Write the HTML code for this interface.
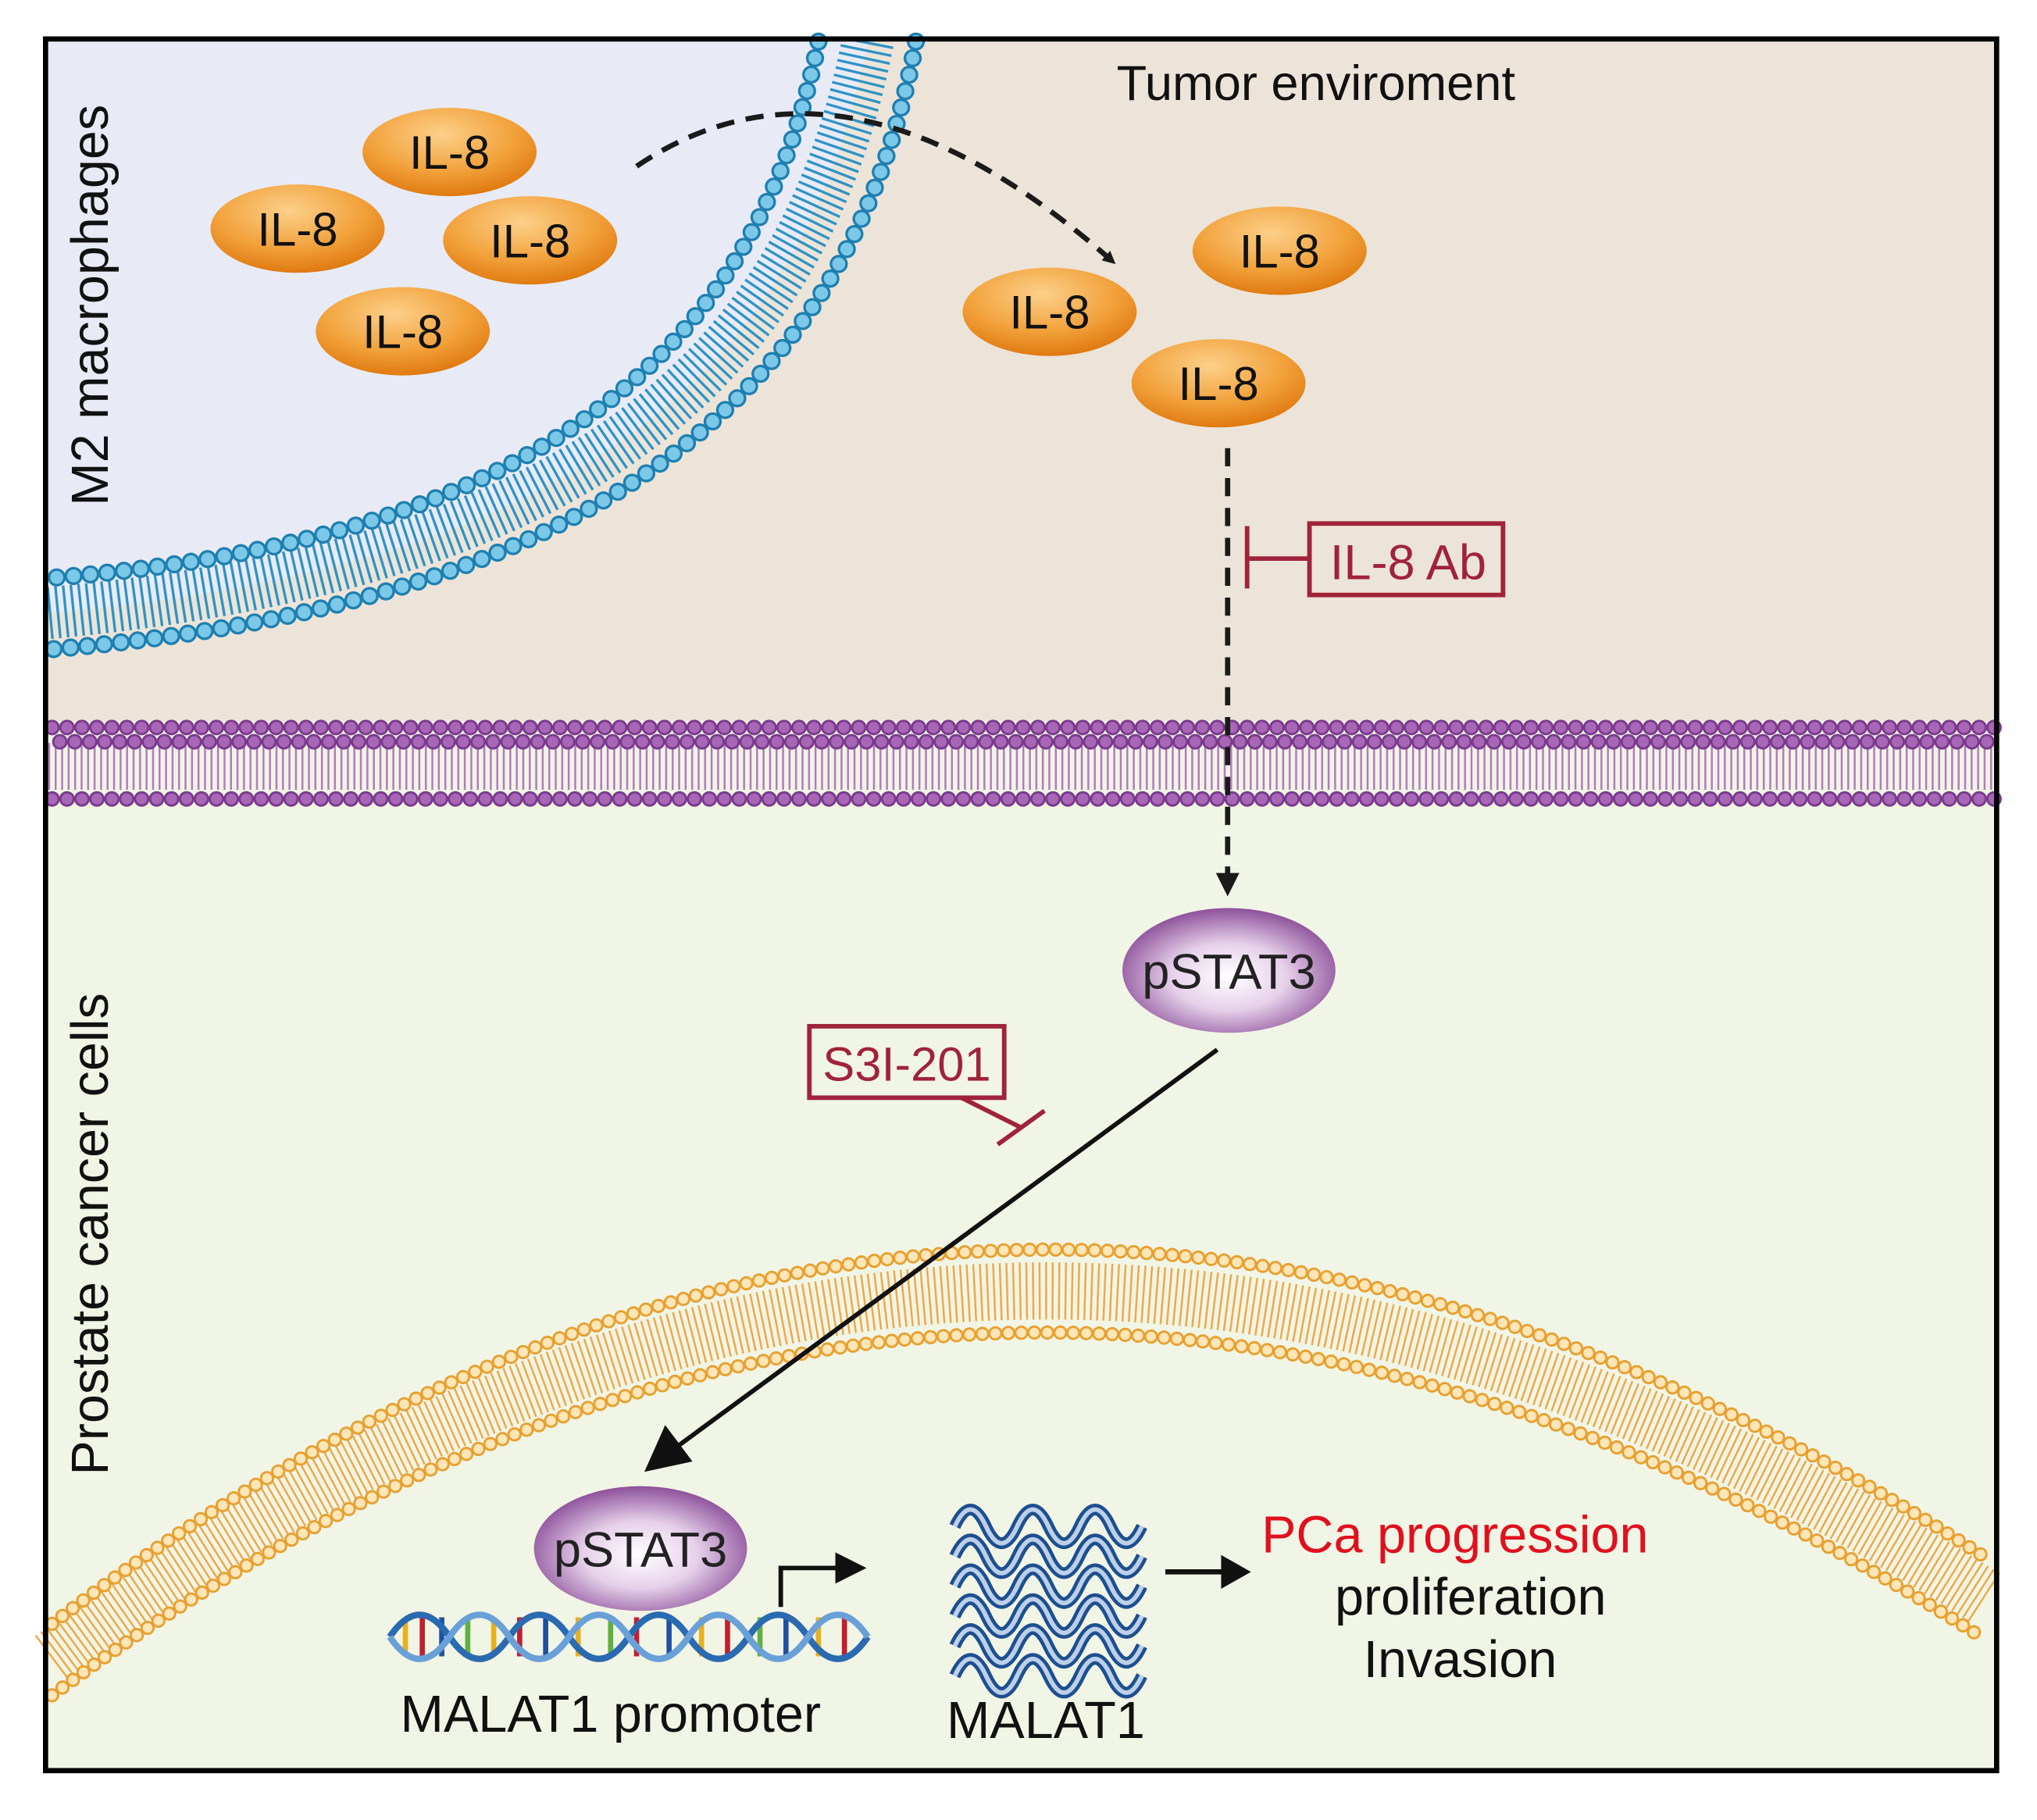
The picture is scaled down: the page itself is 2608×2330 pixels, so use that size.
<!DOCTYPE html>
<html><head><meta charset="utf-8"><style>html,body{margin:0;padding:0;background:#fff}svg{display:block}</style></head>
<body>
<svg xmlns="http://www.w3.org/2000/svg" width="2608" height="2330" viewBox="0 0 1568 1401" font-family="'Liberation Sans', Arial, sans-serif">
<defs>
<radialGradient id="og" cx="0.45" cy="0.3" r="0.7"><stop offset="0" stop-color="#fcd08a"/><stop offset="0.6" stop-color="#f2a23c"/><stop offset="1" stop-color="#e07a10"/></radialGradient>
<radialGradient id="pg" cx="0.5" cy="0.55" r="0.6"><stop offset="0" stop-color="#ffffff"/><stop offset="0.45" stop-color="#e6d0ea"/><stop offset="1" stop-color="#7d3a8c"/></radialGradient>
<marker id="ah" markerWidth="10" markerHeight="10" refX="5" refY="5" orient="auto" markerUnits="userSpaceOnUse" viewBox="0 0 10 10"><path d="M0,0 L10,5 L0,10z" fill="#1a1a1a"/></marker>
</defs>
<rect x="0" y="0" width="1568" height="1401" fill="#fff"/>
<rect x="35" y="30" width="1502" height="530" fill="#ece4d9"/>
<rect x="35" y="555" width="1502" height="808" fill="#f1f5e5"/>
<path d="M37,32 L668,32 C610,330 380,440 37,472 Z" fill="#e8ebf6"/>
<!-- blue membrane -->
<g fill="none">
<path d="M668,32 C610,330 380,440 37,472" stroke="#2e93c4" stroke-width="40" stroke-dasharray="2 4"/>
<path d="M705,32 C648,345 400,470 37,500" stroke="#1e7fb0" stroke-width="14" stroke-linecap="round" stroke-dasharray="0 13"/>
<path d="M705,32 C648,345 400,470 37,500" stroke="#7cc8e8" stroke-width="10" stroke-linecap="round" stroke-dasharray="0 13"/>
<path d="M630,32 C575,310 360,420 37,445" stroke="#1e7fb0" stroke-width="14" stroke-linecap="round" stroke-dasharray="0 13"/>
<path d="M630,32 C575,310 360,420 37,445" stroke="#7cc8e8" stroke-width="10" stroke-linecap="round" stroke-dasharray="0 13"/>
</g>
<!-- purple membrane -->
<g fill="none">
<path d="M37,590 L1537,590" stroke="#b47ac0" stroke-width="36" stroke-dasharray="1.5 3.5"/>
<path d="M40,560 L1537,560" stroke="#7a3a8c" stroke-width="12" stroke-linecap="round" stroke-dasharray="0 11.5"/>
<path d="M40,560 L1537,560" stroke="#a866b6" stroke-width="8.5" stroke-linecap="round" stroke-dasharray="0 11.5"/>
<path d="M46,571 L1537,571" stroke="#7a3a8c" stroke-width="12" stroke-linecap="round" stroke-dasharray="0 11.5"/>
<path d="M46,571 L1537,571" stroke="#a866b6" stroke-width="8.5" stroke-linecap="round" stroke-dasharray="0 11.5"/>
<path d="M40,615 L1537,615" stroke="#7a3a8c" stroke-width="12" stroke-linecap="round" stroke-dasharray="0 11.5"/>
<path d="M40,615 L1537,615" stroke="#a866b6" stroke-width="8.5" stroke-linecap="round" stroke-dasharray="0 11.5"/>
</g>
<!-- orange nuclear membrane -->
<g fill="none">
<path d="M40,1277 Q760,735 1528,1230" stroke="#eda94a" stroke-width="44" stroke-dasharray="1.5 3.5"/>
<path d="M40,1250 Q760,700 1530,1200" stroke="#e8a030" stroke-width="11" stroke-linecap="round" stroke-dasharray="0 10"/>
<path d="M40,1250 Q760,700 1530,1200" stroke="#fde6b8" stroke-width="7.5" stroke-linecap="round" stroke-dasharray="0 10"/>
<path d="M40,1305 Q760,770 1525,1260" stroke="#e8a030" stroke-width="11" stroke-linecap="round" stroke-dasharray="0 10"/>
<path d="M40,1305 Q760,770 1525,1260" stroke="#fde6b8" stroke-width="7.5" stroke-linecap="round" stroke-dasharray="0 10"/>
</g>
<!-- border -->
<rect x="35" y="30" width="1502" height="1333" fill="none" stroke="#000" stroke-width="4"/>
<!-- labels -->
<text x="1013" y="77" font-size="38" text-anchor="middle" fill="#111">Tumor enviroment</text>
<text transform="translate(83,235) rotate(-90)" font-size="40" text-anchor="middle" fill="#111">M2 macrophages</text>
<text transform="translate(83,950) rotate(-90)" font-size="40" text-anchor="middle" fill="#111">Prostate cancer cells</text>
<!-- IL-8 -->
<g font-size="36" text-anchor="middle" fill="#111">
<ellipse cx="346" cy="117" rx="67" ry="34" fill="url(#og)"/><text x="346" y="130">IL-8</text>
<ellipse cx="229" cy="176" rx="67" ry="34" fill="url(#og)"/><text x="229" y="189">IL-8</text>
<ellipse cx="408" cy="185" rx="67" ry="34" fill="url(#og)"/><text x="408" y="198">IL-8</text>
<ellipse cx="310" cy="255" rx="67" ry="34" fill="url(#og)"/><text x="310" y="268">IL-8</text>
<ellipse cx="985" cy="193" rx="67" ry="34" fill="url(#og)"/><text x="985" y="206">IL-8</text>
<ellipse cx="808" cy="240" rx="67" ry="34" fill="url(#og)"/><text x="808" y="253">IL-8</text>
<ellipse cx="938" cy="295" rx="67" ry="34" fill="url(#og)"/><text x="938" y="308">IL-8</text>
</g>
<!-- dashed arrows -->
<path d="M490,128 Q650,20 855,200" fill="none" stroke="#1a1a1a" stroke-width="4" stroke-dasharray="14 9" marker-end="url(#ah)"/>
<path d="M945,345 L945,678" fill="none" stroke="#1a1a1a" stroke-width="4" stroke-dasharray="14 9"/>
<path d="M936,672 L954,672 L945,690 Z" fill="#1a1a1a"/>
<!-- IL-8 Ab -->
<g stroke="#a0233a" stroke-width="3.5" fill="none">
<line x1="960" y1="405" x2="960" y2="453"/><line x1="960" y1="430" x2="1008" y2="430"/>
<rect x="1008" y="403" width="149" height="55"/>
</g>
<text x="1084" y="446" font-size="38" text-anchor="middle" fill="#a0233a">IL-8 Ab</text>
<!-- pSTAT3 top -->
<ellipse cx="946" cy="747" rx="82" ry="48" fill="url(#pg)"/>
<text x="946" y="761" font-size="38" text-anchor="middle" fill="#222">pSTAT3</text>
<!-- solid arrow -->
<line x1="937" y1="808" x2="522" y2="1113" stroke="#111" stroke-width="3.5"/>
<path d="M496,1133 L512,1097 L533,1125 Z" fill="#111"/>
<!-- S3I-201 -->
<g stroke="#a0233a" stroke-width="3.5" fill="none">
<rect x="623" y="790" width="150" height="55"/>
<line x1="740" y1="845" x2="786" y2="868"/><line x1="768" y1="881" x2="804" y2="855"/>
</g>
<text x="698" y="832" font-size="37" text-anchor="middle" fill="#a0233a">S3I-201</text>
<!-- DNA -->
<g fill="none">
<g stroke-width="4">
<line x1="312" y1="1245" x2="312" y2="1275" stroke="#e8b020"/><line x1="325" y1="1245" x2="325" y2="1275" stroke="#c02030"/>
<line x1="340" y1="1245" x2="340" y2="1275" stroke="#2050a0"/><line x1="360" y1="1245" x2="360" y2="1275" stroke="#60b040"/>
<line x1="380" y1="1245" x2="380" y2="1275" stroke="#e8b020"/><line x1="400" y1="1245" x2="400" y2="1275" stroke="#c02030"/>
<line x1="420" y1="1245" x2="420" y2="1275" stroke="#2050a0"/><line x1="445" y1="1245" x2="445" y2="1275" stroke="#e8b020"/>
<line x1="470" y1="1245" x2="470" y2="1275" stroke="#60b040"/><line x1="490" y1="1245" x2="490" y2="1275" stroke="#c02030"/>
<line x1="515" y1="1245" x2="515" y2="1275" stroke="#2050a0"/><line x1="540" y1="1245" x2="540" y2="1275" stroke="#e8b020"/>
<line x1="560" y1="1245" x2="560" y2="1275" stroke="#c02030"/><line x1="585" y1="1245" x2="585" y2="1275" stroke="#60b040"/>
<line x1="605" y1="1245" x2="605" y2="1275" stroke="#2050a0"/><line x1="630" y1="1245" x2="630" y2="1275" stroke="#e8b020"/>
<line x1="650" y1="1245" x2="650" y2="1275" stroke="#c02030"/>
</g>
<path d="M300,1260 q23,-34 46,0 t46,0 t46,0 t46,0 t46,0 t46,0 t46,0 t46,0" stroke="#2a6ab0" stroke-width="5"/>
<path d="M300,1260 q23,34 46,0 t46,0 t46,0 t46,0 t46,0 t46,0 t46,0 t46,0" stroke="#6aa0d8" stroke-width="5"/>
</g>
<!-- pSTAT3 bottom -->
<ellipse cx="493" cy="1192" rx="82" ry="48" fill="url(#pg)"/>
<text x="493" y="1206" font-size="38" text-anchor="middle" fill="#222">pSTAT3</text>
<!-- bent arrow -->
<path d="M601,1237 L601,1207 L645,1207" fill="none" stroke="#111" stroke-width="3.5"/>
<path d="M643,1195 L667,1207 L643,1219 Z" fill="#111"/>
<!-- MALAT1 waves -->
<g fill="none" stroke-linejoin="round">
<g stroke="#1e4f8f" stroke-width="9">
<path d="M735,1175 q12,-26 24,0 t24,0 t24,0 t24,0 t24,0 t24,0"/>
<path d="M735,1198 q12,-26 24,0 t24,0 t24,0 t24,0 t24,0 t24,0"/>
<path d="M735,1221 q12,-26 24,0 t24,0 t24,0 t24,0 t24,0 t24,0"/>
<path d="M735,1244 q12,-26 24,0 t24,0 t24,0 t24,0 t24,0 t24,0"/>
<path d="M735,1267 q12,-26 24,0 t24,0 t24,0 t24,0 t24,0 t24,0"/>
<path d="M735,1290 q12,-26 24,0 t24,0 t24,0 t24,0 t24,0 t24,0"/>
</g>
<g stroke="#bcd0ea" stroke-width="3.5">
<path d="M735,1175 q12,-26 24,0 t24,0 t24,0 t24,0 t24,0 t24,0"/>
<path d="M735,1198 q12,-26 24,0 t24,0 t24,0 t24,0 t24,0 t24,0"/>
<path d="M735,1221 q12,-26 24,0 t24,0 t24,0 t24,0 t24,0 t24,0"/>
<path d="M735,1244 q12,-26 24,0 t24,0 t24,0 t24,0 t24,0 t24,0"/>
<path d="M735,1267 q12,-26 24,0 t24,0 t24,0 t24,0 t24,0 t24,0"/>
<path d="M735,1290 q12,-26 24,0 t24,0 t24,0 t24,0 t24,0 t24,0"/>
</g>
</g>
<!-- arrow to outcomes -->
<line x1="897" y1="1210" x2="942" y2="1210" stroke="#111" stroke-width="4"/>
<path d="M940,1197 L963,1210 L940,1223 Z" fill="#111"/>
<text x="1120" y="1195" font-size="40" text-anchor="middle" fill="#e0101e">PCa progression</text>
<text x="1132" y="1243" font-size="40" text-anchor="middle" fill="#111">proliferation</text>
<text x="1124" y="1291" font-size="40" text-anchor="middle" fill="#111">Invasion</text>
<text x="470" y="1333" font-size="40" text-anchor="middle" fill="#111">MALAT1 promoter</text>
<text x="805" y="1338" font-size="40" text-anchor="middle" fill="#111">MALAT1</text>
</svg>
</body></html>
